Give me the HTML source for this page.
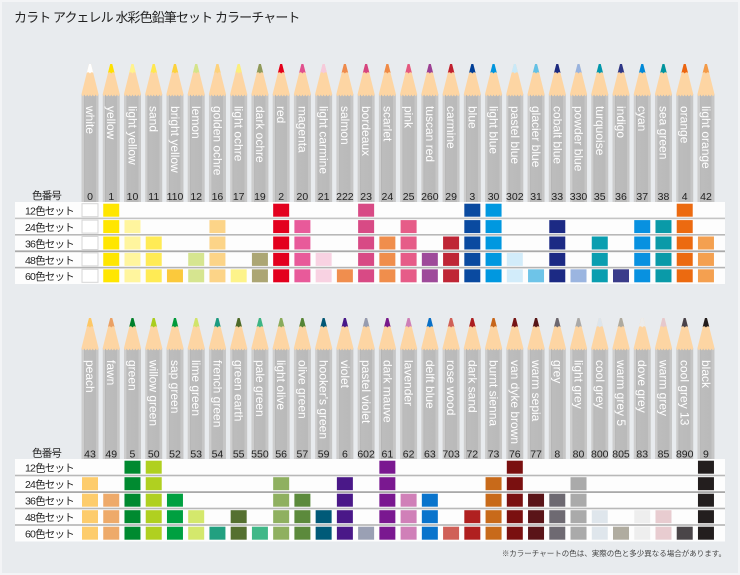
<!DOCTYPE html>
<html><head><meta charset="utf-8"><style>
html,body{margin:0;padding:0;background:#e8ebee;}
svg{display:block}
text{font-family:"Liberation Sans","Noto Sans CJK JP",sans-serif;}
.nm{font-size:12px;fill:#fff;dominant-baseline:central;}
.num{font-size:10.5px;fill:#222;text-anchor:middle;}
.lb{font-size:10.5px;fill:#222;letter-spacing:-0.8px;}
</style></head><body>
<svg width="740" height="575" viewBox="0 0 740 575" xmlns="http://www.w3.org/2000/svg">
<defs>
<linearGradient id="bd" x1="0" x2="1" y1="0" y2="0">
<stop offset="0" stop-color="#cdcdcd"/><stop offset="0.14" stop-color="#cdcdcd"/><stop offset="0.14" stop-color="#b3b3b3"/><stop offset="0.2" stop-color="#bcbcbc"/><stop offset="0.84" stop-color="#bababa"/><stop offset="0.84" stop-color="#c6c6c6"/><stop offset="1" stop-color="#c6c6c6"/>
</linearGradient>
<path id="wood" d="M-1,0 L1,0 L8.5,30 Q7.1,34 5.7,30.5 Q4.25,34 2.8,30.5 Q1.4,34 0,30.5 Q-1.4,34 -2.8,30.5 Q-4.25,34 -5.7,30.5 Q-7.1,34 -8.5,30 Z" fill="#fdd5a3"/>
<path id="tip" d="M-1,0 L1,0 L3.3,9 Q1.6,7.3 0,9.5 Q-1.6,7.3 -3.3,9 Z"/>
<g id="P1"><rect x="-8.5" y="30" width="17" height="108" fill="url(#bd)"/><use href="#wood"/></g>
<g id="P2"><rect x="-8.5" y="30" width="17" height="111" fill="url(#bd)"/><use href="#wood"/></g>
<rect id="a1" y="203.7" width="16" height="13"/>
<rect id="a2" y="220.1" width="16" height="13"/>
<rect id="a3" y="236.5" width="16" height="13"/>
<rect id="a4" y="252.9" width="16" height="13"/>
<rect id="a5" y="269.3" width="16" height="13"/>
<g id="t15"><use href="#a1"/><use href="#a2"/><use href="#a3"/><use href="#a4"/><use href="#a5"/></g>
<g id="t25"><use href="#a2"/><use href="#a3"/><use href="#a4"/><use href="#a5"/></g>
<g id="t35"><use href="#a3"/><use href="#a4"/><use href="#a5"/></g>
<g id="t45"><use href="#a4"/><use href="#a5"/></g>
<g id="t5"><use href="#a5"/></g>
<rect id="b1" y="460.7" width="16" height="13"/>
<rect id="b2" y="477.2" width="16" height="13"/>
<rect id="b3" y="493.7" width="16" height="13"/>
<rect id="b4" y="510.2" width="16" height="13"/>
<rect id="b5" y="526.7" width="16" height="13"/>
<g id="u15"><use href="#b1"/><use href="#b2"/><use href="#b3"/><use href="#b4"/><use href="#b5"/></g>
<g id="u25"><use href="#b2"/><use href="#b3"/><use href="#b4"/><use href="#b5"/></g>
<g id="u35"><use href="#b3"/><use href="#b4"/><use href="#b5"/></g>
<g id="u45"><use href="#b4"/><use href="#b5"/></g>
<g id="u5"><use href="#b5"/></g>
</defs>

<rect x="0" y="0" width="740" height="575" fill="#e8ebee"/>
<rect x="1" y="1" width="738" height="573" fill="none" stroke="#f3f4f6" stroke-width="2"/>

<text x="14" y="22" style="font-size:13px;fill:#222;letter-spacing:-0.9px">カラト アクェレル 水彩色鉛筆セット カラーチャート</text>

<!-- TOP PENCILS -->
<g transform="translate(90,64)"><use href="#P1"/><use href="#tip" fill="#ffffff"/><text class="nm" transform="rotate(90)" x="42" y="0">white</text></g>
<g transform="translate(111.24,64)"><use href="#P1"/><use href="#tip" fill="#ffe100"/><text class="nm" transform="rotate(90)" x="42" y="0">yellow</text></g>
<g transform="translate(132.48,64)"><use href="#P1"/><use href="#tip" fill="#fff38c"/><text class="nm" transform="rotate(90)" x="42" y="0">light yellow</text></g>
<g transform="translate(153.72,64)"><use href="#P1"/><use href="#tip" fill="#ffe84f"/><text class="nm" transform="rotate(90)" x="42" y="0">sand</text></g>
<g transform="translate(174.96,64)"><use href="#P1"/><use href="#tip" fill="#fcd23c"/><text class="nm" transform="rotate(90)" x="42" y="0">bright yellow</text></g>
<g transform="translate(196.2,64)"><use href="#P1"/><use href="#tip" fill="#d4e48a"/><text class="nm" transform="rotate(90)" x="42" y="0">lemon</text></g>
<g transform="translate(217.44,64)"><use href="#P1"/><use href="#tip" fill="#fdd27c"/><text class="nm" transform="rotate(90)" x="42" y="0">golden ochre</text></g>
<g transform="translate(238.68,64)"><use href="#P1"/><use href="#tip" fill="#fbef7c"/><text class="nm" transform="rotate(90)" x="42" y="0">light ochre</text></g>
<g transform="translate(259.92,64)"><use href="#P1"/><use href="#tip" fill="#8f9a5a"/><text class="nm" transform="rotate(90)" x="42" y="0">dark ochre</text></g>
<g transform="translate(281.16,64)"><use href="#P1"/><use href="#tip" fill="#e3001b"/><text class="nm" transform="rotate(90)" x="42" y="0">red</text></g>
<g transform="translate(302.4,64)"><use href="#P1"/><use href="#tip" fill="#e0508f"/><text class="nm" transform="rotate(90)" x="42" y="0">magenta</text></g>
<g transform="translate(323.64,64)"><use href="#P1"/><use href="#tip" fill="#f6cadb"/><text class="nm" transform="rotate(90)" x="42" y="0">light carmine</text></g>
<g transform="translate(344.88,64)"><use href="#P1"/><use href="#tip" fill="#ee8a4c"/><text class="nm" transform="rotate(90)" x="42" y="0">salmon</text></g>
<g transform="translate(366.12,64)"><use href="#P1"/><use href="#tip" fill="#d6447f"/><text class="nm" transform="rotate(90)" x="42" y="0">bordeaux</text></g>
<g transform="translate(387.36,64)"><use href="#P1"/><use href="#tip" fill="#ef8a46"/><text class="nm" transform="rotate(90)" x="42" y="0">scarlet</text></g>
<g transform="translate(408.6,64)"><use href="#P1"/><use href="#tip" fill="#e4587f"/><text class="nm" transform="rotate(90)" x="42" y="0">pink</text></g>
<g transform="translate(429.84,64)"><use href="#P1"/><use href="#tip" fill="#9b3f95"/><text class="nm" transform="rotate(90)" x="42" y="0">tuscan red</text></g>
<g transform="translate(451.08,64)"><use href="#P1"/><use href="#tip" fill="#c0202f"/><text class="nm" transform="rotate(90)" x="42" y="0">carmine</text></g>
<g transform="translate(472.32,64)"><use href="#P1"/><use href="#tip" fill="#003f98"/><text class="nm" transform="rotate(90)" x="42" y="0">blue</text></g>
<g transform="translate(493.56,64)"><use href="#P1"/><use href="#tip" fill="#0095df"/><text class="nm" transform="rotate(90)" x="42" y="0">light blue</text></g>
<g transform="translate(514.8,64)"><use href="#P1"/><use href="#tip" fill="#c9e9f8"/><text class="nm" transform="rotate(90)" x="42" y="0">pastel blue</text></g>
<g transform="translate(536.04,64)"><use href="#P1"/><use href="#tip" fill="#63c1e6"/><text class="nm" transform="rotate(90)" x="42" y="0">glacier blue</text></g>
<g transform="translate(557.28,64)"><use href="#P1"/><use href="#tip" fill="#1b2a80"/><text class="nm" transform="rotate(90)" x="42" y="0">cobalt blue</text></g>
<g transform="translate(578.52,64)"><use href="#P1"/><use href="#tip" fill="#98b3df"/><text class="nm" transform="rotate(90)" x="42" y="0">powder blue</text></g>
<g transform="translate(599.76,64)"><use href="#P1"/><use href="#tip" fill="#0097ad"/><text class="nm" transform="rotate(90)" x="42" y="0">turquoise</text></g>
<g transform="translate(621,64)"><use href="#P1"/><use href="#tip" fill="#2e3788"/><text class="nm" transform="rotate(90)" x="42" y="0">indigo</text></g>
<g transform="translate(642.24,64)"><use href="#P1"/><use href="#tip" fill="#0089d9"/><text class="nm" transform="rotate(90)" x="42" y="0">cyan</text></g>
<g transform="translate(663.48,64)"><use href="#P1"/><use href="#tip" fill="#00949f"/><text class="nm" transform="rotate(90)" x="42" y="0">sea green</text></g>
<g transform="translate(684.72,64)"><use href="#P1"/><use href="#tip" fill="#eb6410"/><text class="nm" transform="rotate(90)" x="42" y="0">orange</text></g>
<g transform="translate(705.96,64)"><use href="#P1"/><use href="#tip" fill="#f39a48"/><text class="nm" transform="rotate(90)" x="42" y="0">light orange</text></g>

<!-- TOP NUMBERS -->
<text class="lb" x="32" y="199">色番号</text>
<text class="num" x="90" y="200">0</text><text class="num" x="111.24" y="200">1</text><text class="num" x="132.48" y="200">10</text><text class="num" x="153.72" y="200">11</text><text class="num" x="174.96" y="200">110</text><text class="num" x="196.2" y="200">12</text><text class="num" x="217.44" y="200">16</text><text class="num" x="238.68" y="200">17</text><text class="num" x="259.92" y="200">19</text><text class="num" x="281.16" y="200">2</text><text class="num" x="302.4" y="200">20</text><text class="num" x="323.64" y="200">21</text><text class="num" x="344.88" y="200">222</text><text class="num" x="366.12" y="200">23</text><text class="num" x="387.36" y="200">24</text><text class="num" x="408.6" y="200">25</text><text class="num" x="429.84" y="200">260</text><text class="num" x="451.08" y="200">29</text><text class="num" x="472.32" y="200">3</text><text class="num" x="493.56" y="200">30</text><text class="num" x="514.8" y="200">302</text><text class="num" x="536.04" y="200">31</text><text class="num" x="557.28" y="200">33</text><text class="num" x="578.52" y="200">330</text><text class="num" x="599.76" y="200">35</text><text class="num" x="621" y="200">36</text><text class="num" x="642.24" y="200">37</text><text class="num" x="663.48" y="200">38</text><text class="num" x="684.72" y="200">4</text><text class="num" x="705.96" y="200">42</text>

<!-- TOP TABLE -->
<rect x="15" y="202" width="710" height="82" fill="#fdfdfd"/>
<rect x="15" y="217.6" width="710" height="1.6" fill="#c4c4c4"/>
<rect x="15" y="234" width="710" height="1.6" fill="#b8b8b8"/>
<rect x="15" y="250.4" width="710" height="1.8" fill="#a9a9a9"/>
<rect x="15" y="266.8" width="710" height="1.6" fill="#b4b4b4"/>
<text class="lb" x="25" y="214.5">12色セット</text>
<text class="lb" x="25" y="231">24色セット</text>
<text class="lb" x="25" y="247.4">36色セット</text>
<text class="lb" x="25" y="263.8">48色セット</text>
<text class="lb" x="25" y="280.2">60色セット</text>

<use href="#t15" x="82" fill="#ffffff" stroke="#d6d6d6" stroke-width="1"/>
<use href="#t15" x="103.24" fill="#ffe600"/>
<use href="#t25" x="124.48" fill="#fff59e"/>
<use href="#t35" x="145.72" fill="#ffeb55"/>
<use href="#t5" x="166.96" fill="#fbc93c"/>
<use href="#t45" x="188.2" fill="#d6e590"/>
<use href="#t25" x="209.44" fill="#fcd488"/>
<use href="#t5" x="230.68" fill="#fdf38a"/>
<use href="#t45" x="251.92" fill="#aca674"/>
<use href="#t15" x="273.16" fill="#e3001e"/>
<use href="#t25" x="294.4" fill="#e85a9a"/>
<use href="#t45" x="315.64" fill="#f8d2e2"/>
<use href="#t5" x="336.88" fill="#f08e4e"/>
<use href="#t15" x="358.12" fill="#d84a85"/>
<use href="#t35" x="379.36" fill="#f08e4c"/>
<use href="#t25" x="400.6" fill="#e65c88"/>
<use href="#t45" x="421.84" fill="#9e4a9a"/>
<use href="#t35" x="443.08" fill="#bf2636"/>
<use href="#t15" x="464.32" fill="#0a4aa0"/>
<use href="#t15" x="485.56" fill="#0098e0"/>
<use href="#t45" x="506.8" fill="#d2ecfa"/>
<use href="#t5" x="528.04" fill="#6ec4e8"/>
<use href="#t25" x="549.28" fill="#1c2a84"/>
<use href="#t5" x="570.52" fill="#9bb5e0"/>
<use href="#t35" x="591.76" fill="#0a9eb0"/>
<use href="#t5" x="613" fill="#3a3c8a"/>
<use href="#t25" x="634.24" fill="#0891e0"/>
<use href="#t25" x="655.48" fill="#0a9aa8"/>
<use href="#t15" x="676.72" fill="#ec6a10"/>
<use href="#t35" x="697.96" fill="#f4a050"/>

<!-- BOTTOM PENCILS -->
<g transform="translate(90,318)"><use href="#P2"/><use href="#tip" fill="#fdc866"/><text class="nm" transform="rotate(90)" x="42" y="0">peach</text></g>
<g transform="translate(111.24,318)"><use href="#P2"/><use href="#tip" fill="#eaa064"/><text class="nm" transform="rotate(90)" x="42" y="0">fawn</text></g>
<g transform="translate(132.48,318)"><use href="#P2"/><use href="#tip" fill="#00802c"/><text class="nm" transform="rotate(90)" x="42" y="0">green</text></g>
<g transform="translate(153.72,318)"><use href="#P2"/><use href="#tip" fill="#a9cd1e"/><text class="nm" transform="rotate(90)" x="42" y="0">willow green</text></g>
<g transform="translate(174.96,318)"><use href="#P2"/><use href="#tip" fill="#009b3c"/><text class="nm" transform="rotate(90)" x="42" y="0">sap green</text></g>
<g transform="translate(196.2,318)"><use href="#P2"/><use href="#tip" fill="#d0e46a"/><text class="nm" transform="rotate(90)" x="42" y="0">lime green</text></g>
<g transform="translate(217.44,318)"><use href="#P2"/><use href="#tip" fill="#1a9b82"/><text class="nm" transform="rotate(90)" x="42" y="0">french green</text></g>
<g transform="translate(238.68,318)"><use href="#P2"/><use href="#tip" fill="#4d6a2a"/><text class="nm" transform="rotate(90)" x="42" y="0">green earth</text></g>
<g transform="translate(259.92,318)"><use href="#P2"/><use href="#tip" fill="#3cb585"/><text class="nm" transform="rotate(90)" x="42" y="0">pale green</text></g>
<g transform="translate(281.16,318)"><use href="#P2"/><use href="#tip" fill="#88ab5c"/><text class="nm" transform="rotate(90)" x="42" y="0">light olive</text></g>
<g transform="translate(302.4,318)"><use href="#P2"/><use href="#tip" fill="#548436"/><text class="nm" transform="rotate(90)" x="42" y="0">olive green</text></g>
<g transform="translate(323.64,318)"><use href="#P2"/><use href="#tip" fill="#005776"/><text class="nm" transform="rotate(90)" x="42" y="0">hooker's green</text></g>
<g transform="translate(344.88,318)"><use href="#P2"/><use href="#tip" fill="#47188a"/><text class="nm" transform="rotate(90)" x="42" y="0">violet</text></g>
<g transform="translate(366.12,318)"><use href="#P2"/><use href="#tip" fill="#969cb0"/><text class="nm" transform="rotate(90)" x="42" y="0">pastel violet</text></g>
<g transform="translate(387.36,318)"><use href="#P2"/><use href="#tip" fill="#77198c"/><text class="nm" transform="rotate(90)" x="42" y="0">dark mauve</text></g>
<g transform="translate(408.6,318)"><use href="#P2"/><use href="#tip" fill="#cd7fb8"/><text class="nm" transform="rotate(90)" x="42" y="0">lavender</text></g>
<g transform="translate(429.84,318)"><use href="#P2"/><use href="#tip" fill="#0870c8"/><text class="nm" transform="rotate(90)" x="42" y="0">delft blue</text></g>
<g transform="translate(451.08,318)"><use href="#P2"/><use href="#tip" fill="#cf5f57"/><text class="nm" transform="rotate(90)" x="42" y="0">rose wood</text></g>
<g transform="translate(472.32,318)"><use href="#P2"/><use href="#tip" fill="#ab1d21"/><text class="nm" transform="rotate(90)" x="42" y="0">dark sand</text></g>
<g transform="translate(493.56,318)"><use href="#P2"/><use href="#tip" fill="#c6651a"/><text class="nm" transform="rotate(90)" x="42" y="0">burnt sienna</text></g>
<g transform="translate(514.8,318)"><use href="#P2"/><use href="#tip" fill="#751315"/><text class="nm" transform="rotate(90)" x="42" y="0">van dyke brown</text></g>
<g transform="translate(536.04,318)"><use href="#P2"/><use href="#tip" fill="#561517"/><text class="nm" transform="rotate(90)" x="42" y="0">warm sepia</text></g>
<g transform="translate(557.28,318)"><use href="#P2"/><use href="#tip" fill="#6b6770"/><text class="nm" transform="rotate(90)" x="42" y="0">grey</text></g>
<g transform="translate(578.52,318)"><use href="#P2"/><use href="#tip" fill="#a9a9a9"/><text class="nm" transform="rotate(90)" x="42" y="0">light grey</text></g>
<g transform="translate(599.76,318)"><use href="#P2"/><use href="#tip" fill="#dde5ec"/><text class="nm" transform="rotate(90)" x="42" y="0">cool grey</text></g>
<g transform="translate(621,318)"><use href="#P2"/><use href="#tip" fill="#aeaa9f"/><text class="nm" transform="rotate(90)" x="42" y="0">warm grey 5</text></g>
<g transform="translate(642.24,318)"><use href="#P2"/><use href="#tip" fill="#ececec"/><text class="nm" transform="rotate(90)" x="42" y="0">dove grey</text></g>
<g transform="translate(663.48,318)"><use href="#P2"/><use href="#tip" fill="#e6c8cd"/><text class="nm" transform="rotate(90)" x="42" y="0">warm grey</text></g>
<g transform="translate(684.72,318)"><use href="#P2"/><use href="#tip" fill="#48424a"/><text class="nm" transform="rotate(90)" x="42" y="0">cool grey 13</text></g>
<g transform="translate(705.96,318)"><use href="#P2"/><use href="#tip" fill="#221c1c"/><text class="nm" transform="rotate(90)" x="42" y="0">black</text></g>

<!-- BOTTOM NUMBERS -->
<text class="lb" x="32" y="456.5">色番号</text>
<text class="num" x="90" y="457.3">43</text><text class="num" x="111.24" y="457.3">49</text><text class="num" x="132.48" y="457.3">5</text><text class="num" x="153.72" y="457.3">50</text><text class="num" x="174.96" y="457.3">52</text><text class="num" x="196.2" y="457.3">53</text><text class="num" x="217.44" y="457.3">54</text><text class="num" x="238.68" y="457.3">55</text><text class="num" x="259.92" y="457.3">550</text><text class="num" x="281.16" y="457.3">56</text><text class="num" x="302.4" y="457.3">57</text><text class="num" x="323.64" y="457.3">59</text><text class="num" x="344.88" y="457.3">6</text><text class="num" x="366.12" y="457.3">602</text><text class="num" x="387.36" y="457.3">61</text><text class="num" x="408.6" y="457.3">62</text><text class="num" x="429.84" y="457.3">63</text><text class="num" x="451.08" y="457.3">703</text><text class="num" x="472.32" y="457.3">72</text><text class="num" x="493.56" y="457.3">73</text><text class="num" x="514.8" y="457.3">76</text><text class="num" x="536.04" y="457.3">77</text><text class="num" x="557.28" y="457.3">8</text><text class="num" x="578.52" y="457.3">80</text><text class="num" x="599.76" y="457.3">800</text><text class="num" x="621" y="457.3">805</text><text class="num" x="642.24" y="457.3">83</text><text class="num" x="663.48" y="457.3">85</text><text class="num" x="684.72" y="457.3">890</text><text class="num" x="705.96" y="457.3">9</text>

<!-- BOTTOM TABLE -->
<rect x="15" y="459" width="710" height="82.5" fill="#fdfdfd"/>
<rect x="15" y="474.7" width="710" height="1.6" fill="#b8b8b8"/>
<rect x="15" y="491.2" width="710" height="1.8" fill="#a9a9a9"/>
<rect x="15" y="507.7" width="710" height="1.6" fill="#b8b8b8"/>
<rect x="15" y="524.2" width="710" height="1.6" fill="#b4b4b4"/>
<text class="lb" x="25" y="471.3">12色セット</text>
<text class="lb" x="25" y="487.8">24色セット</text>
<text class="lb" x="25" y="504.3">36色セット</text>
<text class="lb" x="25" y="520.8">48色セット</text>
<text class="lb" x="25" y="537.3">60色セット</text>

<use href="#u25" x="82" fill="#fdcc6c"/>
<use href="#u35" x="103.24" fill="#eeaa6a"/>
<use href="#u15" x="124.48" fill="#008a30"/>
<use href="#u15" x="145.72" fill="#b0d020"/>
<use href="#u35" x="166.96" fill="#00a040"/>
<use href="#u45" x="188.2" fill="#d4e86c"/>
<use href="#u5" x="209.44" fill="#22a080"/>
<use href="#u45" x="230.68" fill="#557030"/>
<use href="#u5" x="251.92" fill="#40b888"/>
<use href="#u25" x="273.16" fill="#8fb060"/>
<use href="#u35" x="294.4" fill="#5c8a3c"/>
<use href="#u45" x="315.64" fill="#005a78"/>
<use href="#u25" x="336.88" fill="#4a1888"/>
<use href="#u5" x="358.12" fill="#9aa0b4"/>
<use href="#u15" x="379.36" fill="#7a1890"/>
<use href="#u35" x="400.6" fill="#d080b8"/>
<use href="#u35" x="421.84" fill="#0a74cc"/>
<use href="#u5" x="443.08" fill="#d06058"/>
<use href="#u45" x="464.32" fill="#b02020"/>
<use href="#u25" x="485.56" fill="#c86a1a"/>
<use href="#u15" x="506.8" fill="#7a1010"/>
<use href="#u35" x="528.04" fill="#5a1418"/>
<use href="#u35" x="549.28" fill="#6e6a72"/>
<use href="#u25" x="570.52" fill="#aaaaaa"/>
<use href="#u45" x="591.76" fill="#dfe6ec"/>
<use href="#u5" x="613" fill="#b0aca0"/>
<use href="#u45" x="634.24" fill="#eeeeee"/>
<use href="#u45" x="655.48" fill="#e8ccd0"/>
<use href="#u5" x="676.72" fill="#4a4548"/>
<use href="#u15" x="697.96" fill="#231e1e"/>

<text x="726" y="556" style="font-size:7.5px;fill:#444;text-anchor:end">※カラーチャートの色は、実際の色と多少異なる場合があります。</text>
</svg>
</body></html>
